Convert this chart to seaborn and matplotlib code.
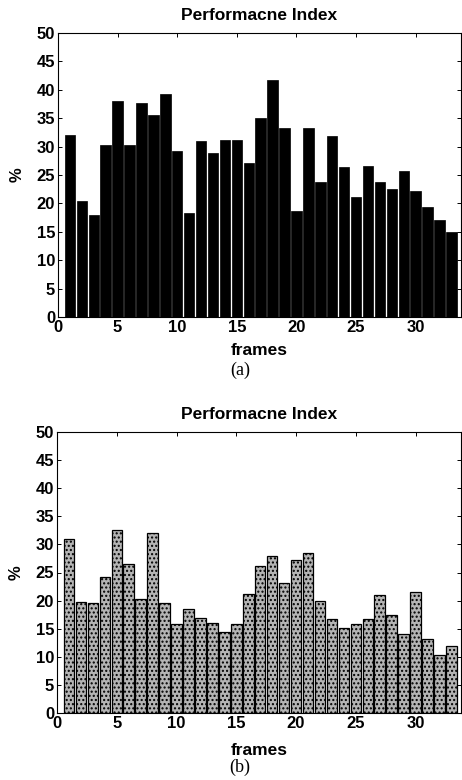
import numpy as np
import pandas as pd
import matplotlib
matplotlib.use("Agg")
import matplotlib.pyplot as plt
import seaborn as sns

frames = list(range(1, 34))
values_a = [32.0, 20.5, 18.0, 30.2, 38.0, 30.3, 37.7, 35.5, 39.3, 29.3, 18.3,
            31.0, 28.8, 31.2, 31.2, 27.1, 35.0, 41.8, 33.2, 18.6, 33.2, 23.8,
            31.8, 26.4, 21.1, 26.5, 23.7, 22.5, 25.7, 22.1, 19.4, 17.0, 15.0]
values_b = [31.0, 19.7, 19.6, 24.2, 32.6, 26.5, 20.2, 32.0, 19.5, 15.8, 18.5,
            16.9, 16.1, 14.5, 15.8, 21.1, 26.2, 27.9, 23.2, 27.3, 28.4, 20.0,
            16.8, 15.2, 15.9, 16.8, 21.0, 17.4, 14.1, 21.6, 13.2, 10.3, 11.9]
xticks = [0, 5, 10, 15, 20, 25, 30]
yticks = list(range(0, 51, 5))
title = "Performacne Index"
xlabel = "frames"
ylabel = "%"
captions = ["(a)", "(b)"]

sns.set_style("ticks")
plt.rcParams['font.family'] = ['Liberation Sans', 'DejaVu Sans']
plt.rcParams['hatch.linewidth'] = 1.0
plt.rcParams['hatch.color'] = '#4a4a4a'
for k in ['text.color', 'axes.labelcolor', 'xtick.color', 'ytick.color',
          'xtick.labelcolor', 'ytick.labelcolor', 'axes.edgecolor']:
    plt.rcParams[k] = 'black'

W, H = 462, 780
fig = plt.figure(figsize=(W / 100, H / 100), dpi=100)

def px_axes(l, t, r, b):
    return fig.add_axes([l / W, 1 - b / H, (r - l) / W, (b - t) / H])

ax_a = px_axes(58, 33, 461, 317)
ax_b = px_axes(57, 432, 461, 713)

df_a = pd.DataFrame({"frame": frames, "value": values_a})
df_b = pd.DataFrame({"frame": frames, "value": values_b})

sns.barplot(data=df_a, x="frame", y="value", native_scale=True, ax=ax_a,
            color="black", width=0.88, edgecolor="black", linewidth=0.5,
            saturation=1)
sns.barplot(data=df_b, x="frame", y="value", native_scale=True, ax=ax_b,
            color="#b4b4b4", width=0.88, edgecolor="black", linewidth=0.9,
            saturation=1, hatch="....")

layout = [(ax_a, captions[0], 370, 284, 26), (ax_b, captions[1], 767, 281, 30)]
for ax, cap, cap_y, h_px, lab_off in layout:
    ax.set_xlim(0, 33.8)
    ax.set_ylim(0, 50)
    ax.set_xticks(xticks)
    ax.set_yticks(yticks)
    ax.set_xticklabels([str(t) for t in xticks], fontsize=12, fontweight="bold")
    ax.set_yticklabels([str(t) for t in yticks], fontsize=12, fontweight="bold")
    ax.tick_params(direction="in", length=3, width=0.7, pad=2,
                   top=True, right=True, colors="black")
    for s in ax.spines.values():
        s.set_visible(True)
        s.set_linewidth(0.8)
        s.set_color("black")
    ax.set_title(title, fontsize=12.5, fontweight="bold", pad=9.4, color="black")
    ax.set_xlabel(xlabel, fontsize=12.5, fontweight="bold", color="black")
    ax.xaxis.set_label_coords(0.5, -lab_off / h_px)
    ax.set_ylabel(ylabel, fontsize=12, fontweight="bold", color="black")
    ax.yaxis.set_label_coords(-33 / 403, 0.5)
    fig.text(240 / W, 1 - cap_y / H, cap, ha="center", va="center",
             fontsize=13, family="Liberation Serif", color="black")

fig.savefig("out.png", dpi=100, facecolor="white")
